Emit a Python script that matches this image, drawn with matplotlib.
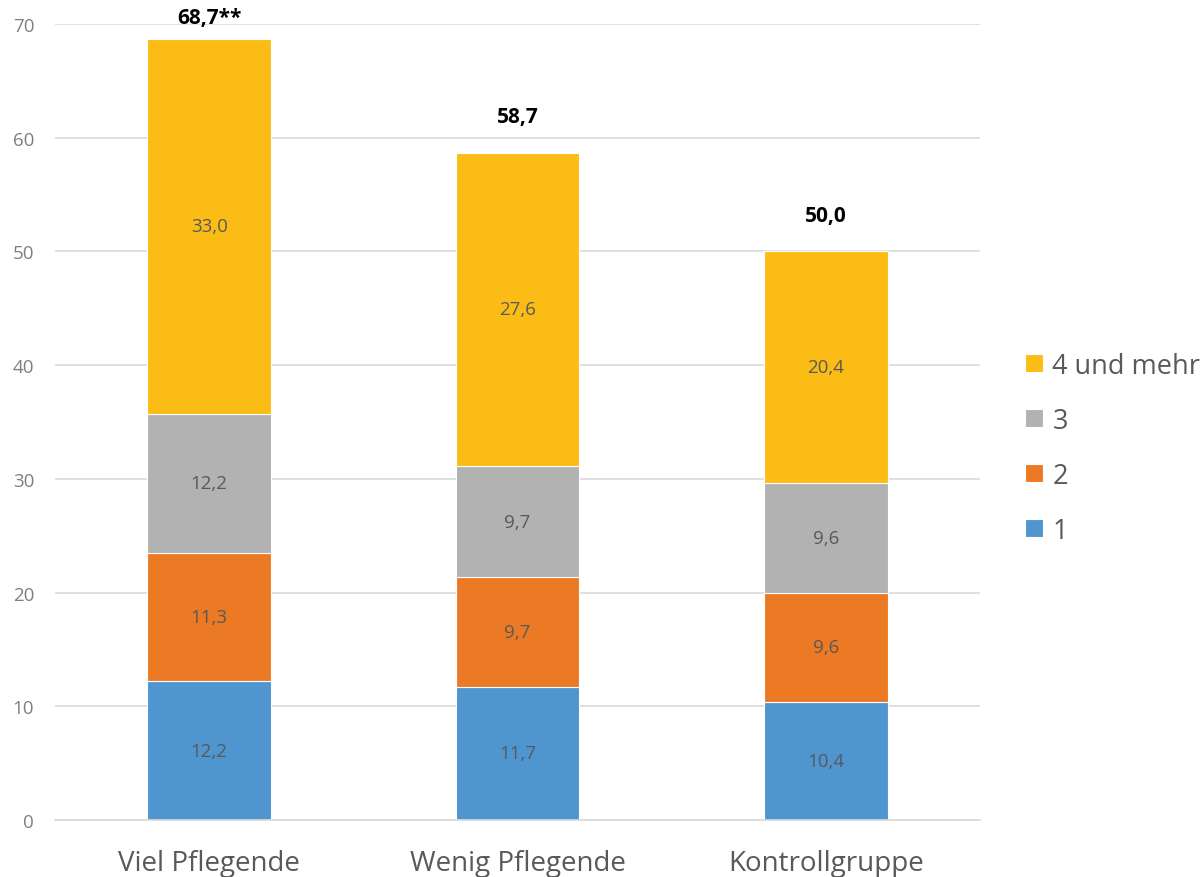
import numpy as np
import matplotlib

matplotlib.use('Agg')
import matplotlib.pyplot as plt

plt.rcParams['font.family'] = ['Open Sans', 'DejaVu Sans']

# ================ data ================
categories = ['Viel Pflegende', 'Wenig Pflegende', 'Kontrollgruppe']
series_names = ['1', '2', '3', '4 und mehr']
vals_1 = [12.2, 11.7, 10.4]
vals_2 = [11.3, 9.7, 9.6]
vals_3 = [12.2, 9.7, 9.6]
vals_4 = [33.0, 27.6, 20.4]
total_labels = ['68,7**', '58,7', '50,0']
colors = ['#4f96d0', '#ec7a25', '#b2b2b2', '#fbbd15']

# ================ plot ================
Figure = plt.figure(figsize=(12.03, 8.78), dpi=100)
ax = Figure.add_axes([0.0457, 0.0649, 0.769, 0.9066])

x = np.arange(len(categories))
bottom = np.zeros(len(categories))
handles = []
for name, vals, col in zip(series_names, [vals_1, vals_2, vals_3, vals_4], colors):
    vals = np.array(vals)
    b = ax.bar(x, vals, width=0.4, bottom=bottom, color=col,
               edgecolor='white', linewidth=0.8, label=name, zorder=2)
    handles.append(b)
    for xi, v, bt in zip(x, vals, bottom):
        ax.text(xi, bt + v / 2, ('%.1f' % v).replace('.', ','),
                ha='center', va='center', fontsize=13.5, color='#595959')
    bottom = bottom + vals

for xi, tot, lab in zip(x, bottom, total_labels):
    ax.text(xi, min(tot + 3.2, 70.6), lab, ha='center', va='center',
            fontsize=15, fontweight='bold', color='black', clip_on=False)

ax.set_xlim(-0.5, 2.5)
ax.set_ylim(0, 70)
ax.set_yticks(np.arange(0, 71, 10))
ax.set_xticks(x)
ax.set_xticklabels(categories)
ax.tick_params(axis='x', length=0, pad=21, labelsize=20, labelcolor='#595959')
ax.tick_params(axis='y', length=0, pad=15, labelsize=13.5, labelcolor='#7f7f7f')
for s in ['top', 'right', 'left']:
    ax.spines[s].set_visible(False)
ax.spines['bottom'].set_color('#d9d9d9')
ax.spines['bottom'].set_linewidth(1.2)
ax.grid(axis='y', color='#d9d9d9', linewidth=1.2, zorder=0)
ax.set_axisbelow(True)

leg = ax.legend(handles[::-1], series_names[::-1], loc='center left',
                bbox_to_anchor=(1.049, 0.467), frameon=False, fontsize=19.5,
                handlelength=0.65, handleheight=0.65, handletextpad=0.35,
                labelspacing=1.0, borderaxespad=0, borderpad=0,
                labelcolor='#595959')

Figure.savefig('out.png', dpi=100)
